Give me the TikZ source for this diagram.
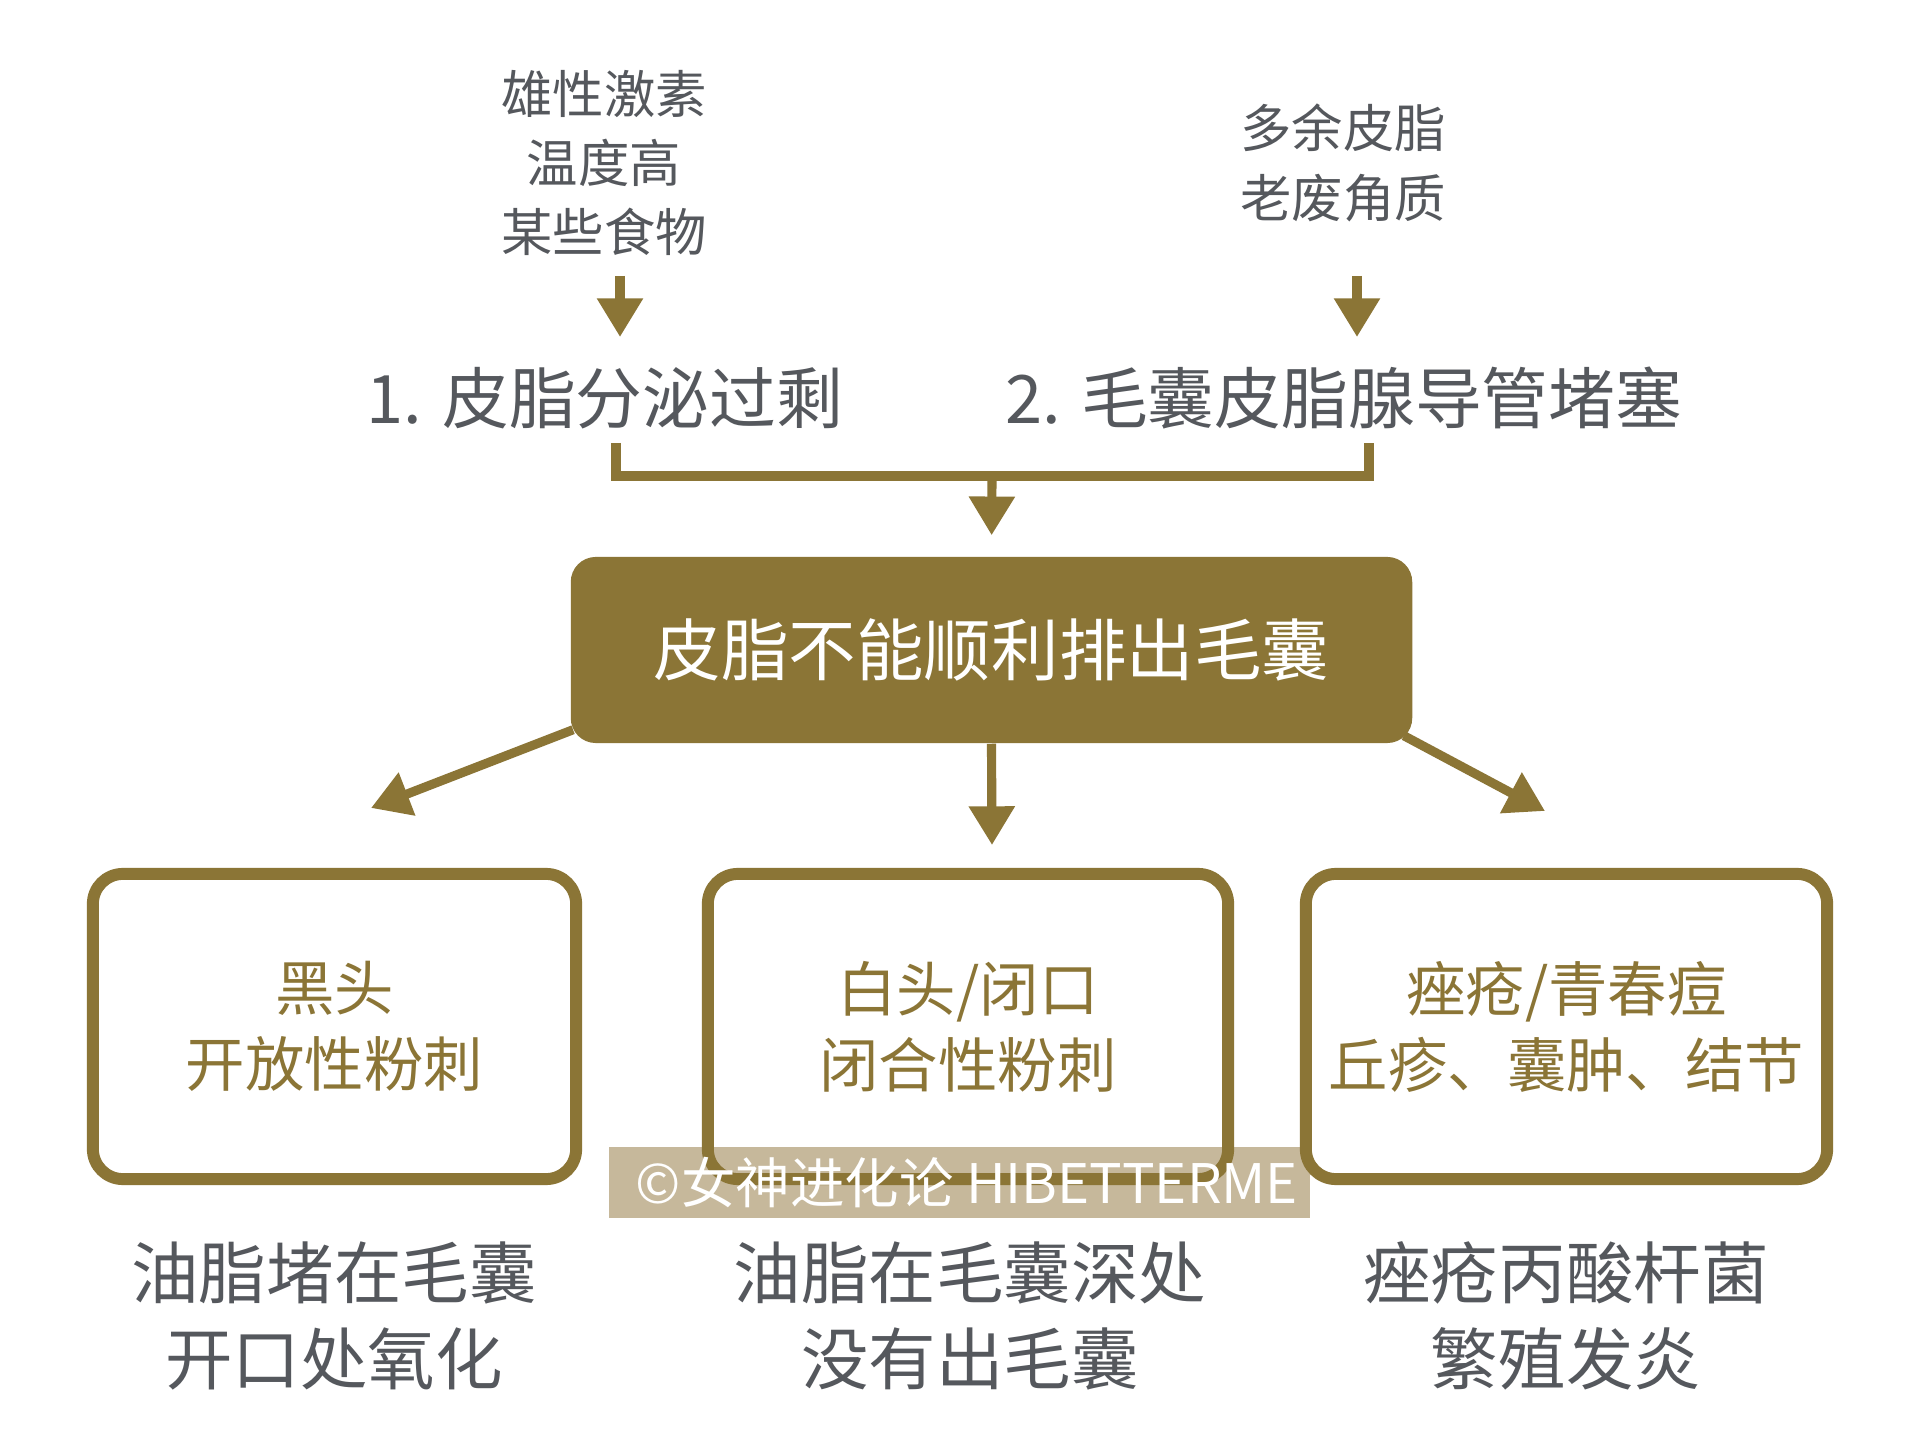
\documentclass[tikz,border=0pt]{standalone}
\usepackage{fontspec}
\setmainfont{Noto Sans CJK SC}
\usetikzlibrary{arrows.meta}
\definecolor{sebum}{HTML}{8B7536}
\definecolor{inkgray}{HTML}{55585D}
\definecolor{marktan}{HTML}{C6B89B}

\begin{document}
\begin{tikzpicture}[
    x=0.01cm, y=-0.01cm,
    cause/.style={
      text=inkgray,
      align=center,
      inner sep=0pt,
      font=\fontsize{14.6}{19.7}\selectfont
    },
    reason/.style={
      text=inkgray,
      inner sep=0pt,
      font=\fontsize{19}{23}\selectfont
    },
    result/.style={
      draw=sebum,
      line width=3.4pt,
      rounded corners=3mm,
      text=sebum,
      align=center,
      minimum height=3.05cm,
      font=\fontsize{16.9}{21.6}\selectfont
    },
    note/.style={
      text=inkgray,
      align=center,
      inner sep=0pt,
      font=\fontsize{19.2}{24.4}\selectfont
    },
    link/.style={draw=sebum, line width=2.6pt},
    arr/.style={link, -{Triangle[width=12.5pt, length=11pt]}}
  ]
    \useasboundingbox[fill=white] (0,0) rectangle (1920,1440);

    % causes
    \node[cause] (src1) at (604,163) {雄性激素\\温度高\\某些食物};
    \node[cause] (src2) at (1343,163) {多余皮脂\\老废角质};
    \coordinate (s1) at (620,276);
    \coordinate (e1) at (620,337);
    \coordinate (s2) at (1357,276);
    \coordinate (e2) at (1357,337);
    \draw[arr] (s1) -- (e1);
    \draw[arr] (s2) -- (e2);

    \node[reason] (t1) at (605,398) {1. 皮脂分泌过剩};
    \node[reason] (t2) at (1344,398) {2. 毛囊皮脂腺导管堵塞};

    % bracket
    \coordinate (b1) at (616,443);
    \coordinate (b2) at (1369,443);
    \coordinate (mid) at (992,476);
    \draw[link] (b1) |- (mid) -| (b2);

    \node[fill=sebum, rounded corners=2.5mm, minimum width=8.41cm, minimum height=1.86cm,
      text=white, font=\fontsize{19.2}{23}\selectfont] (main) at (991.5,650) {皮脂不能顺利排出毛囊};
    \draw[arr, shorten >=0.21cm] (mid) -- (main.north);

    % branches
    \coordinate (tipL) at (371,808);
    \coordinate (tipC) at (992,845);
    \coordinate (tipR) at (1545,811);
    \draw[arr] ([shift={(3,-14)}]main.south west) -- (tipL);
    \draw[arr] (main.south) -- (tipC);
    \draw[arr] ([shift={(-9,-8)}]main.south east) -- (tipR);

    % watermark band
    \node[fill=marktan, minimum width=7.01cm, minimum height=0.71cm, inner sep=0pt] (mark) at (959.5,1182.5) {};

    \node[result, minimum width=4.83cm] (r1) at (334.5,1026.5) {黑头\\开放性粉刺};
    \node[result, minimum width=5.2cm] (r2) at (968,1026.5) {白头/闭口\\闭合性粉刺};
    \node[result, minimum width=5.21cm] (r3) at (1566.5,1026.5) {痤疮/青春痘\\丘疹、囊肿、结节};

    \node[text=white, font=\fontsize{15.5}{18}\selectfont] (marktext) at (967,1183) {©女神进化论 HIBETTERME};

    \node[note] (n1) at (334,1316) {油脂堵在毛囊\\开口处氧化};
    \node[note] (n2) at (970,1316) {油脂在毛囊深处\\没有出毛囊};
    \node[note] (n3) at (1566,1316) {痤疮丙酸杆菌\\繁殖发炎};
  \end{tikzpicture}
\end{document}
